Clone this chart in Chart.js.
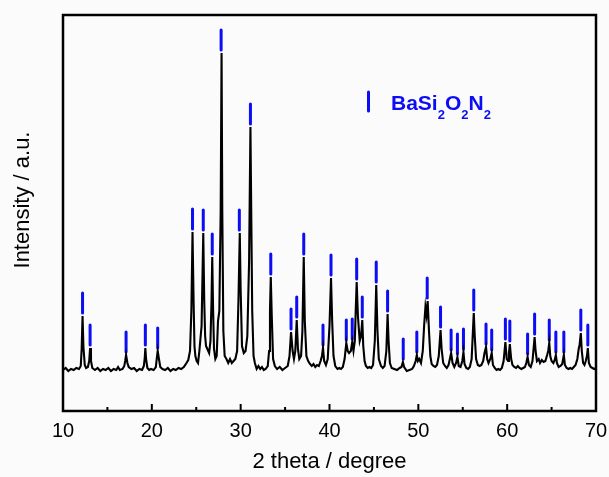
<!DOCTYPE html>
<html>
<head>
<meta charset="utf-8">
<script src="https://cdn.jsdelivr.net/npm/chart.js@4"></script>
<style>
  html, body { margin: 0; padding: 0; background: #fbfbfb; }
  #wrap { width: 609px; height: 477px; }
</style>
</head>
<body>
<div id="wrap"><canvas id="c" width="609" height="477"></canvas></div>
<script>
const twoTheta = [
  10.0,10.3,10.6,10.9,11.2,11.5,11.8,12.0,12.1,12.2,12.3,12.45,12.6,12.8,12.95,13.05,13.15,13.3,13.6,13.9,
  14.2,14.5,14.8,15.1,15.4,15.7,16.0,16.2,16.4,16.7,16.9,17.0,17.1,17.25,17.4,17.7,18.0,18.3,18.6,18.9,
  19.1,19.2,19.27,19.35,19.5,19.7,19.9,20.2,20.45,20.55,20.66,20.8,20.95,21.2,21.5,21.8,22.1,22.4,22.7,23.0,
  23.3,23.6,23.9,24.1,24.3,24.45,24.58,24.7,24.8,24.9,25.05,25.2,25.35,25.6,25.79,25.9,26.0,26.1,26.25,26.45,
  26.6,26.72,26.8,26.9,27.0,27.15,27.3,27.45,27.6,27.75,27.85,27.93,28.05,28.2,28.4,28.6,28.8,29.0,29.2,29.4,
  29.6,29.75,29.9,30.0,30.15,30.35,30.55,30.75,30.95,31.1,31.2,31.3,31.45,31.6,31.8,32.0,32.2,32.4,32.6,32.8,
  33.05,33.2,33.3,33.39,33.5,33.65,33.85,34.1,34.4,34.7,35.0,35.3,35.5,35.67,35.85,36.0,36.15,36.31,36.45,36.6,
  36.8,36.95,37.1,37.22,37.4,37.6,37.8,38.0,38.2,38.4,38.6,38.8,39.0,39.15,39.27,39.4,39.6,39.8,40.0,40.17,
  40.3,40.45,40.65,40.9,41.1,41.3,41.5,41.7,41.89,42.05,42.2,42.4,42.56,42.7,42.85,42.95,43.06,43.2,43.4,43.55,
  43.69,43.8,43.95,44.1,44.3,44.5,44.7,44.9,45.1,45.26,45.4,45.55,45.8,46.0,46.2,46.4,46.54,46.65,46.8,47.0,
  47.3,47.6,47.9,48.1,48.26,48.4,48.7,49.0,49.3,49.5,49.7,49.83,49.95,50.1,50.3,50.5,50.65,50.8,50.92,51.05,
  51.2,51.35,51.5,51.7,51.9,52.1,52.3,52.5,52.62,52.8,53.0,53.2,53.4,53.55,53.69,53.85,54.05,54.25,54.4,54.55,
  54.75,54.95,55.08,55.2,55.4,55.6,55.8,56.0,56.12,56.24,56.35,56.5,56.7,56.9,57.1,57.3,57.45,57.62,57.75,57.9,
  58.1,58.26,58.4,58.6,58.8,59.0,59.2,59.4,59.6,59.8,59.95,60.1,60.2,60.3,60.45,60.6,60.8,61.0,61.2,61.4,
  61.6,61.8,62.0,62.15,62.3,62.45,62.65,62.85,62.95,63.09,63.2,63.35,63.55,63.7,63.9,64.1,64.3,64.5,64.62,64.74,
  64.85,65.0,65.2,65.35,65.48,65.6,65.8,66.0,66.2,66.38,66.5,66.7,66.9,67.1,67.3,67.5,67.7,67.9,68.05,68.15,
  68.29,68.4,68.55,68.7,68.85,68.98,69.08,69.2,69.4,69.6,69.8,70.0
];
const intensity = [
  41,43,40,42,41,43,42,45,62,95,64,46,43,44,50,63,50,43,41,43,
  40,42,41,43,40,42,41,44,41,42,45,50,56,48,44,42,43,40,42,41,
  45,53,63,52,43,41,42,41,44,52,60,52,44,42,41,43,40,42,41,43,
  42,44,48,51,60,100,179,110,65,55,50,48,60,85,178,110,75,65,62,58,
  70,110,154,100,62,52,55,90,100,200,358,200,80,55,52,48,52,48,50,52,
  60,110,178,120,65,58,60,75,150,284,190,100,55,48,42,45,42,44,41,42,
  45,60,100,134,95,52,45,42,44,41,43,45,55,79,60,52,60,91,62,52,
  55,80,154,90,55,50,47,45,47,44,46,45,50,55,63,50,46,52,85,133,
  90,55,45,42,43,42,44,52,68,60,58,60,69,60,70,100,129,95,70,75,
  91,65,50,45,43,44,43,46,70,126,80,52,45,43,45,60,97,70,48,43,
  42,41,43,44,49,44,40,41,42,45,50,56,50,52,48,60,85,104,96,110,
  80,55,47,45,44,46,55,81,62,48,45,43,46,52,58,48,44,48,54,45,
  44,50,59,47,43,42,44,52,75,98,75,52,46,45,46,50,58,64,52,48,
  52,58,46,43,41,42,41,43,50,69,52,50,58,67,52,46,44,43,45,43,
  42,43,44,48,54,46,44,50,60,74,60,50,52,48,51,49,50,56,60,68,
  55,50,48,51,56,48,44,45,47,56,46,43,42,43,42,44,46,52,62,66,
  78,60,48,46,50,55,63,48,44,43,42,43
];
// BaSi2O2N2 reference reflections: position and the intensity of the peak beneath each marker
const refPos = [12.2,13.05,17.1,19.27,20.66,24.58,25.79,26.8,27.8,29.85,31.1,33.39,35.67,36.31,37.1,39.27,40.17,41.89,42.56,43.06,43.69,
  45.26,46.54,48.3,49.83,51.0,52.5,53.69,54.4,55.08,56.24,57.62,58.26,59.8,60.3,62.3,63.09,64.74,65.48,66.38,68.29,69.08];
const refPeak = [95,63,56,63,60,179,178,154,358,178,284,134,79,91,154,63,133,68,69,129,91,
  126,97,49,56,110,81,58,54,59,98,64,58,69,67,54,74,68,56,56,78,63];
const xTickValues = [10, 20, 30, 40, 50, 60, 70];
const xMinorValues = [15, 25, 35, 45, 55, 65];
const xLabel = '2 theta / degree';
const yLabel = 'Intensity / a.u.';
const phaseName = 'BaSi2O2N2';

// ---- styling ----
const BLUE = 'rgb(12,12,245)';
const MARK_OFFSET = 13;   // gap above the peak for reference markers (value units)
const FONT = '"Liberation Sans", Arial, Helvetica, sans-serif';

const lineData = twoTheta.map((x, i) => ({ x, y: intensity[i] }));
const refData = refPos.map((x, i) => ({ x, y: refPeak[i] + MARK_OFFSET }));

const decor = {
  id: 'decor',
  beforeDatasetDraw(chart, args) {
    if (args.index === 1) { chart.ctx.save(); chart.ctx.lineCap = 'round'; }
  },
  afterDatasetDraw(chart, args) {
    if (args.index === 1) chart.ctx.restore();
  },
  afterDraw(chart) {
    const { ctx, chartArea: a, scales: { x } } = chart;
    ctx.save();
    ctx.strokeStyle = '#000';
    ctx.lineWidth = 2.5;
    ctx.strokeRect(a.left, a.top, a.right - a.left, a.bottom - a.top);
    ctx.lineWidth = 2;
    xTickValues.forEach(v => {
      const px = x.getPixelForValue(v);
      ctx.beginPath(); ctx.moveTo(px, a.bottom); ctx.lineTo(px, a.bottom - 7); ctx.stroke();
    });
    xMinorValues.forEach(v => {
      const px = x.getPixelForValue(v);
      ctx.beginPath(); ctx.moveTo(px, a.bottom); ctx.lineTo(px, a.bottom - 4); ctx.stroke();
    });
    // y title
    ctx.save();
    ctx.translate(23, 200);
    ctx.rotate(-Math.PI / 2);
    ctx.fillStyle = '#000';
    ctx.font = '22px ' + FONT;
    ctx.textAlign = 'center';
    ctx.textBaseline = 'middle';
    ctx.fillText(yLabel, 0, 0);
    ctx.restore();
    // legend
    ctx.strokeStyle = BLUE;
    ctx.lineWidth = 3;
    ctx.lineCap = 'round';
    ctx.beginPath(); ctx.moveTo(368.5, 92); ctx.lineTo(368.5, 111); ctx.stroke();
    ctx.fillStyle = BLUE;
    ctx.textBaseline = 'alphabetic';
    ctx.textAlign = 'left';
    let cx = 391;
    const parts = phaseName.match(/[A-Za-z]+|\d+/g);
    parts.forEach(p => {
      const sub = /^\d+$/.test(p);
      ctx.font = 'bold ' + (sub ? 13 : 21) + 'px ' + FONT;
      ctx.fillText(p, cx, sub ? 119 : 109.5);
      cx += ctx.measureText(p).width;
    });
    ctx.restore();
  }
};

new Chart(document.getElementById('c'), {
  type: 'line',
  data: {
    datasets: [
      {
        data: lineData,
        borderColor: '#000',
        borderWidth: 2.1,
        pointRadius: 0,
        tension: 0,
        fill: false
      },
      {
        type: 'scatter',
        data: refData,
        showLine: false,
        pointStyle: 'line',
        rotation: 90,
        radius: 10,
        borderWidth: 3,
        borderColor: BLUE,
        backgroundColor: BLUE
      }
    ]
  },
  options: {
    responsive: false,
    animation: false,
    devicePixelRatio: 1,
    layout: { padding: { left: 0, top: 15, right: 12, bottom: 0 } },
    plugins: { legend: { display: false }, tooltip: { enabled: false } },
    scales: {
      x: {
        type: 'linear',
        min: 10, max: 70,
        afterBuildTicks(scale) { scale.ticks = xTickValues.map(v => ({ value: v })); },
        afterFit(scale) { scale.height = 66; scale.paddingLeft = 0; scale.paddingRight = 0; },
        grid: { display: false, drawTicks: false },
        border: { display: false },
        ticks: { color: '#000', font: { family: FONT, size: 20 }, padding: 8, maxRotation: 0 },
        title: { display: true, text: xLabel, color: '#000', font: { family: FONT, size: 22 }, padding: { top: 0, bottom: 2 } }
      },
      y: {
        min: 0, max: 396,
        afterFit(scale) { scale.width = 63; scale.paddingTop = 0; scale.paddingBottom = 0; },
        grid: { display: false, drawTicks: false },
        border: { display: false },
        ticks: { display: false }
      }
    }
  },
  plugins: [decor]
});
</script>
</body>
</html>
